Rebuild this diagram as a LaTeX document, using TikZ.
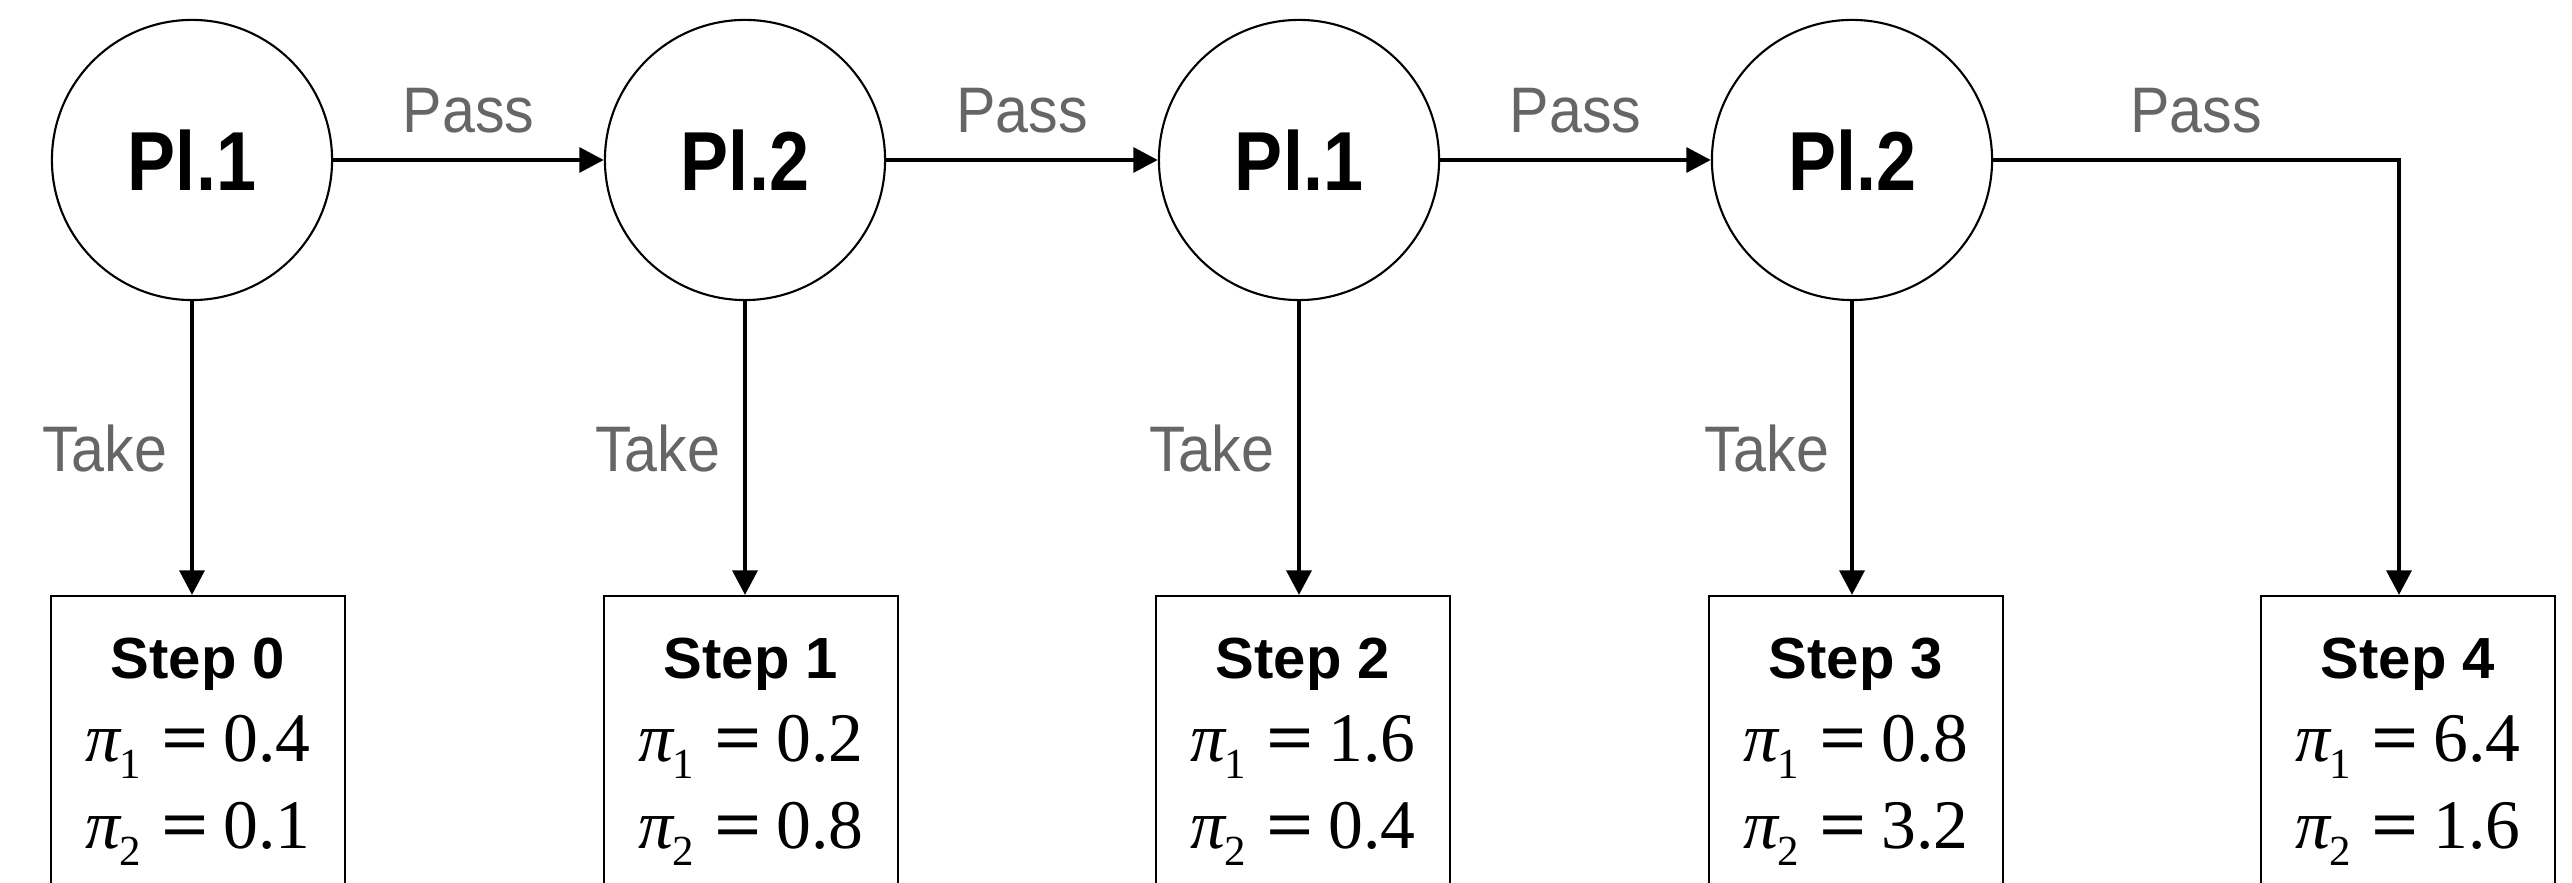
\documentclass[tikz,border=0pt]{standalone}
\usepackage{fontspec}
\usepackage{graphicx}
\setmainfont{Liberation Sans}
\newfontfamily\lblfont[FakeStretch=0.92]{Liberation Sans}
\newfontfamily\plfont[FakeStretch=0.86]{Liberation Sans}
\newfontfamily\stfont{Liberation Sans}
\newfontfamily\tms{Liberation Serif}
\usetikzlibrary{arrows.meta}
\definecolor{lblgray}{RGB}{102,102,102}
\newcommand\pieq[2]{\textit{π}\hspace{-0.04em}\raisebox{-4.7pt}{\fontsize{12.2}{12}\selectfont #1}\hspace{0.3em}\scalebox{1.2}[1]{\textbf{=}}\hspace{0.2em}#2}
\tikzset{
 player/.style={circle, draw, line width=0.6pt, minimum size=2.8cm, inner sep=0pt,
   font=\plfont\bfseries\fontsize{23.8}{24}\selectfont},
 stepbox/.style={draw, line width=0.7pt, minimum width=2.94cm, minimum height=3.2cm, anchor=north, inner sep=0pt},
 lbl/.style={text=lblgray, font=\lblfont\fontsize{18.3}{19}\selectfont, inner sep=0pt},
 arr/.style={line width=1.3pt, -{Triangle[length=7pt,width=7pt]}},
 steptitle/.style={anchor=base, inner sep=0pt, font=\stfont\bfseries\fontsize{16.5}{17}\selectfont},
 eqn/.style={anchor=base, inner sep=0pt, font=\tms\fontsize{19.8}{20}\selectfont},
}
\begin{document}
\begin{tikzpicture}[x=0.01cm, y=-0.01cm]
\path[use as bounding box] (0,0) rectangle (2572,883);
\clip (0,0) rectangle (2572,883);
% players
\node[player] (c1) at (192,160) {Pl.1};
\node[player] (c2) at (745,160) {Pl.2};
\node[player] (c3) at (1299,160) {Pl.1};
\node[player] (c4) at (1852,160) {Pl.2};
% step boxes
\node[stepbox] (b1) at (198,595) {};
\node[stepbox] (b2) at (751,595) {};
\node[stepbox] (b3) at (1303,595) {};
\node[stepbox] (b4) at (1856,595) {};
\node[stepbox] (b5) at (2408,595) {};
% box texts
\node[steptitle] (s1) at (198,679) {Step 0};
\node[eqn] (s1a) at (198,762) {\pieq{1}{0.4}};
\node[eqn] (s1b) at (198,849) {\pieq{2}{0.1}};
\node[steptitle] (s2) at (751,679) {Step 1};
\node[eqn] (s2a) at (751,762) {\pieq{1}{0.2}};
\node[eqn] (s2b) at (751,849) {\pieq{2}{0.8}};
\node[steptitle] (s3) at (1303,679) {Step 2};
\node[eqn] (s3a) at (1303,762) {\pieq{1}{1.6}};
\node[eqn] (s3b) at (1303,849) {\pieq{2}{0.4}};
\node[steptitle] (s4) at (1856,679) {Step 3};
\node[eqn] (s4a) at (1856,762) {\pieq{1}{0.8}};
\node[eqn] (s4b) at (1856,849) {\pieq{2}{3.2}};
\node[steptitle] (s5) at (2408,679) {Step 4};
\node[eqn] (s5a) at (2408,762) {\pieq{1}{6.4}};
\node[eqn] (s5b) at (2408,849) {\pieq{2}{1.6}};
% pass arrows
\draw[arr] (c1) -- node[lbl, anchor=base, yshift=0.27cm] (p1) {Pass} (c2);
\draw[arr] (c2) -- node[lbl, anchor=base, yshift=0.27cm] (p2) {Pass} (c3);
\draw[arr] (c3) -- node[lbl, anchor=base, yshift=0.27cm] (p3) {Pass} (c4);
\coordinate (k) at (2399,160);
\draw[arr] (c4.east) -- node[lbl, anchor=base, yshift=0.27cm] (p4) {Pass} (k) -- (k |- b5.north);
% take arrows
\draw[arr] (c1.south) -- (c1.south |- b1.north);
\draw[arr] (c2.south) -- (c2.south |- b2.north);
\draw[arr] (c3.south) -- (c3.south |- b3.north);
\draw[arr] (c4.south) -- (c4.south |- b4.north);
\node[lbl, anchor=base east] (t1) at (168,472) {Take};
\node[lbl, anchor=base east] (t2) at (721,472) {Take};
\node[lbl, anchor=base east] (t3) at (1275,472) {Take};
\node[lbl, anchor=base east] (t4) at (1830,472) {Take};
\end{tikzpicture}
\end{document}
